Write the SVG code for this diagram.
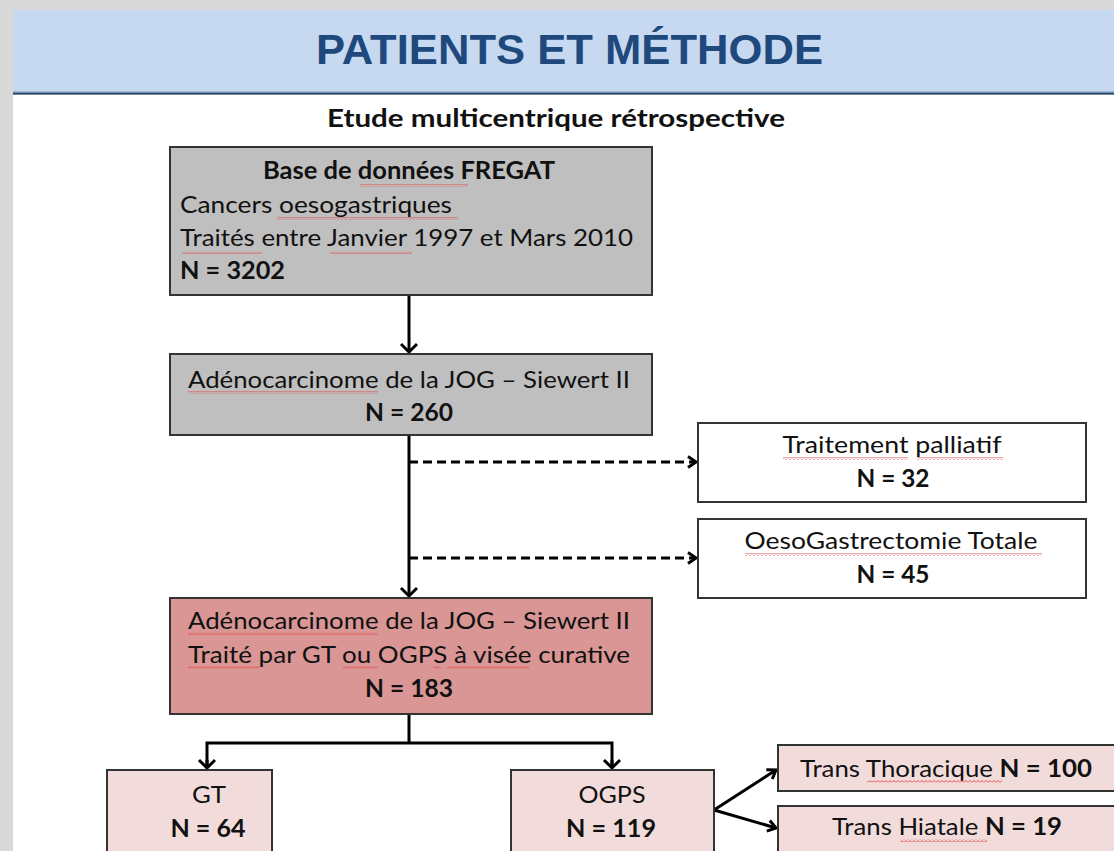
<svg xmlns="http://www.w3.org/2000/svg" width="1114" height="851" viewBox="0 0 1114 851">
<defs>
<style>
.box{stroke:#333;stroke-width:2}
.grey{fill:#bfbfbf}
.white{fill:#fff}
.red{fill:#d99694}
.pink{fill:#f2dcdb}
.t{font-family:Lato,"Liberation Sans",sans-serif;font-size:24px;fill:#111}
.b{font-weight:bold}
.c{text-anchor:middle}
.ln{stroke:#000;stroke-width:3;fill:none}
.dash{stroke-dasharray:9 5}
.sq{fill:url(#squig)}
</style>
<pattern id="squig" x="0" y="0" width="4" height="3" patternUnits="userSpaceOnUse">
<path d="M0,2.5 L2,0.5 L4,2.5" fill="none" stroke="#e34b4b" stroke-width="1"/>
</pattern>
<marker id="ah" markerUnits="userSpaceOnUse" markerWidth="14" markerHeight="20" refX="10" refY="9" orient="auto">
<path d="M2,1 L10,9 L2,17" fill="none" stroke="#000" stroke-width="3"/>
</marker>
<marker id="ahs" markerUnits="userSpaceOnUse" markerWidth="14" markerHeight="16" refX="10" refY="7" orient="auto">
<path d="M2,1.5 L10,7 L2,12.5" fill="none" stroke="#000" stroke-width="3" stroke-dasharray="none"/>
</marker>
</defs>

<rect x="0" y="0" width="1114" height="851" fill="#d9d9d9"/>
<rect x="13" y="10" width="1101" height="841" fill="#fff"/>
<g id="header">
<rect x="13" y="10" width="1101" height="82" fill="#c6d9f1"/>
<rect x="13" y="91.5" width="1101" height="1.5" fill="#7593b6"/>
<rect x="13" y="93" width="1101" height="1.6" fill="#23405f"/>
<text x="569.5" y="64" text-anchor="middle" font-family="'Liberation Sans',Arial,sans-serif" font-weight="bold" font-size="43" fill="#1f497d" textLength="507" lengthAdjust="spacingAndGlyphs">PATIENTS ET MÉTHODE</text>
</g>
<text id="subtitle" class="t b c" x="556" y="127" font-size="22" textLength="458" lengthAdjust="spacingAndGlyphs">Etude multicentrique rétrospective</text>

<g id="connectors">
<line class="ln" x1="409" y1="295" x2="409" y2="352" marker-end="url(#ah)"/>
<line class="ln" x1="409" y1="435" x2="409" y2="596" marker-end="url(#ah)"/>
<line class="ln dash" x1="409" y1="462" x2="696" y2="462" marker-end="url(#ahs)"/>
<line class="ln dash" x1="409" y1="558" x2="696" y2="558" marker-end="url(#ahs)"/>
<polyline class="ln" points="409,714 409,743"/>
<polyline class="ln" points="207,767 207,743 612,743 612,767"/>
<line class="ln" x1="207" y1="760" x2="207" y2="768" marker-end="url(#ah)"/>
<line class="ln" x1="612" y1="760" x2="612" y2="768" marker-end="url(#ah)"/>
<line class="ln" x1="714" y1="810" x2="776" y2="770" marker-end="url(#ahs)"/>
<line class="ln" x1="714" y1="810" x2="776" y2="828" marker-end="url(#ahs)"/>
</g>

<g id="n1">
<rect class="box grey" x="170" y="147" width="482" height="148"/>
<text class="t b c" x="409" y="179" textLength="292" lengthAdjust="spacingAndGlyphs">Base de données FREGAT</text>
<text class="t" x="180" y="213" textLength="272" lengthAdjust="spacingAndGlyphs">Cancers oesogastriques</text>
<text class="t" x="180" y="246" textLength="453" lengthAdjust="spacingAndGlyphs">Traités entre Janvier 1997 et Mars 2010</text>
<text class="t b" x="180" y="279" textLength="105" lengthAdjust="spacingAndGlyphs">N = 3202</text>
<rect class="sq" x="360" y="184" width="108" height="3"/>
<rect class="sq" x="277" y="217" width="181" height="3"/>
<rect class="sq" x="182" y="251" width="80" height="3"/>
<rect class="sq" x="330" y="251" width="82" height="3"/>
</g>

<g id="n2">
<rect class="box grey" x="170" y="354" width="482" height="81"/>
<text class="t c" x="409" y="388" textLength="442" lengthAdjust="spacingAndGlyphs">Adénocarcinome de la JOG – Siewert II</text>
<text class="t b c" x="409" y="421" textLength="88" lengthAdjust="spacingAndGlyphs">N = 260</text>
<rect class="sq" x="188" y="391" width="190" height="3"/>
</g>

<g id="n3">
<rect class="box white" x="698" y="423" width="388" height="79"/>
<text class="t c" x="892" y="453" textLength="219" lengthAdjust="spacingAndGlyphs">Traitement palliatif</text>
<text class="t b c" x="893" y="487" textLength="73" lengthAdjust="spacingAndGlyphs">N = 32</text>
<rect class="sq" x="783" y="457" width="125" height="3"/>
<rect class="sq" x="917" y="457" width="86" height="3"/>
</g>

<g id="n4">
<rect class="box white" x="698" y="519" width="388" height="79"/>
<text class="t c" x="891" y="549" textLength="293" lengthAdjust="spacingAndGlyphs">OesoGastrectomie Totale</text>
<text class="t b c" x="893" y="583" textLength="73" lengthAdjust="spacingAndGlyphs">N = 45</text>
<rect class="sq" x="745" y="553" width="297" height="3"/>
</g>

<g id="n5">
<rect class="box red" x="170" y="598" width="482" height="116"/>
<text class="t c" x="409" y="629" textLength="442" lengthAdjust="spacingAndGlyphs">Adénocarcinome de la JOG – Siewert II</text>
<text class="t c" x="409" y="663" textLength="442" lengthAdjust="spacingAndGlyphs">Traité par GT ou OGPS à visée curative</text>
<text class="t b c" x="409" y="697" textLength="88" lengthAdjust="spacingAndGlyphs">N = 183</text>
<rect class="sq" x="188" y="632" width="190" height="3"/>
<rect class="sq" x="188" y="666" width="71" height="3"/>
<rect class="sq" x="343" y="666" width="35" height="3"/>
<rect class="sq" x="433" y="666" width="8" height="3"/>
<rect class="sq" x="447" y="666" width="82" height="3"/>
</g>

<g id="n6">
<rect class="box pink" x="107" y="770" width="165" height="90"/>
<text class="t c" x="209" y="803" textLength="34" lengthAdjust="spacingAndGlyphs">GT</text>
<text class="t b c" x="208" y="837" textLength="75" lengthAdjust="spacingAndGlyphs">N = 64</text>
</g>

<g id="n7">
<rect class="box pink" x="511" y="770" width="203" height="90"/>
<text class="t c" x="612" y="803" textLength="67" lengthAdjust="spacingAndGlyphs">OGPS</text>
<text class="t b c" x="611" y="837" textLength="90" lengthAdjust="spacingAndGlyphs">N = 119</text>
</g>

<g id="n8">
<rect class="box pink" x="778" y="745" width="345" height="46"/>
<text class="t" x="800" y="777" textLength="292" lengthAdjust="spacingAndGlyphs">Trans Thoracique <tspan class="b">N = 100</tspan></text>
<rect class="sq" x="867" y="780" width="135" height="3"/>
</g>

<g id="n9">
<rect class="box pink" x="778" y="806" width="345" height="55"/>
<text class="t" x="832" y="835" textLength="230" lengthAdjust="spacingAndGlyphs">Trans Hiatale <tspan class="b">N = 19</tspan></text>
<rect class="sq" x="900" y="839" width="87" height="3"/>
</g>
</svg>
